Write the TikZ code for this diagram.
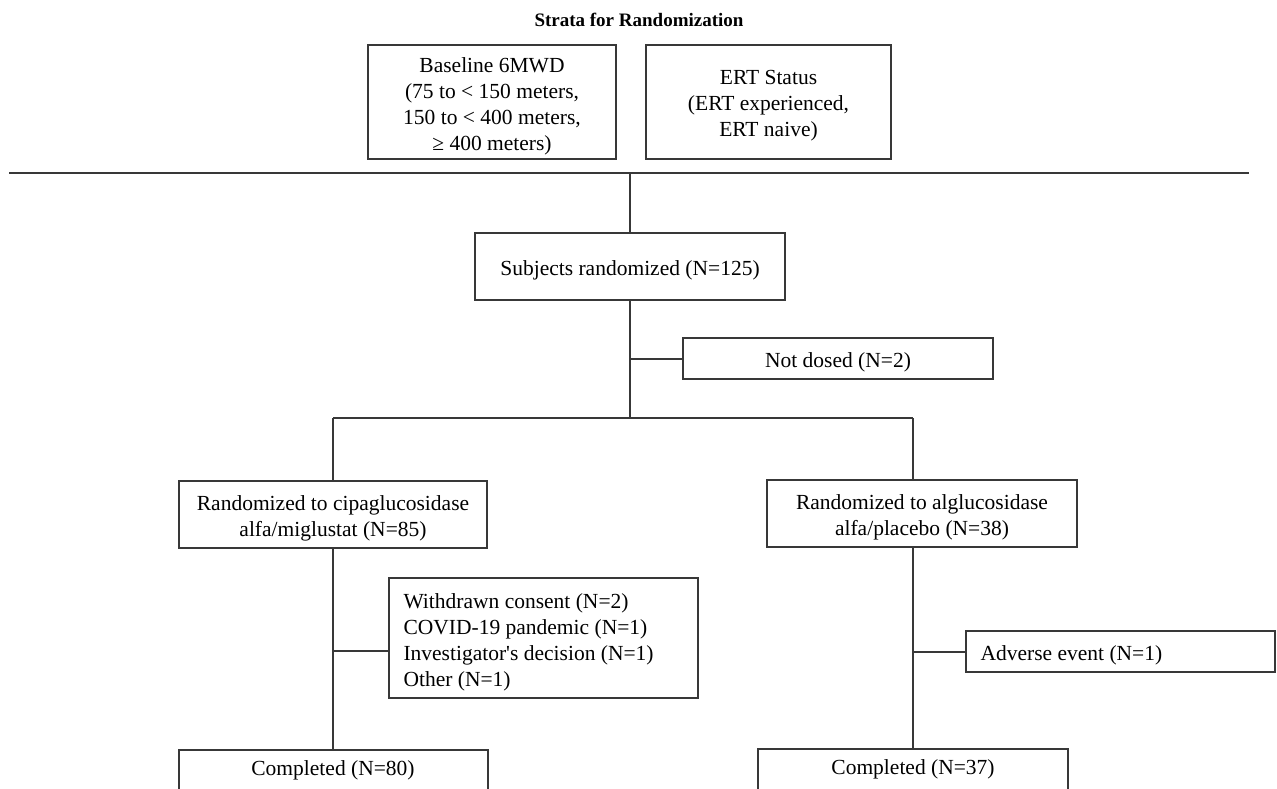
\documentclass[tikz,border=0pt]{standalone}
\usepackage{fontspec}
\setmainfont{Liberation Serif}[Ligatures=TeXOff]
\begin{document}
\begin{tikzpicture}[x=1pt,y=-1pt,
  ln/.style={draw=black!78,line width=2pt},
  box/.style={ln,rectangle,inner sep=0pt},
  tx/.style={align=center,yshift=-4pt,font=\fontsize{21.5}{26}\selectfont},
  txl/.style={tx,align=left,anchor=west,xshift=12pt},
  ttl/.style={font=\fontsize{19}{22}\selectfont\bfseries}]
\clip (0,0) rectangle (1277,789);
\useasboundingbox (0,0) rectangle (1277,789);
\fill[white] (0,0) rectangle (1277,789);
\node[ttl] (title) at (639,20) {Strata for Randomization};
\node[box,minimum width=248,minimum height=114,
  label={[tx]center:{Baseline 6MWD\\(75 to < 150 meters,\\150 to < 400 meters,\\≥ 400 meters)}}]
  (base) at (492,102) {};
\node[box,minimum width=245,minimum height=114,
  label={[tx]center:{ERT Status\\(ERT experienced,\\ERT naive)}}]
  (ert) at (768.5,102) {};
\coordinate (hl) at (9,173);
\coordinate (hr) at (1249,173);
\coordinate (hm) at (630,173);
\draw[ln] (hl) -- (hr);
\node[box,minimum width=310,minimum height=67,
  label={[tx]center:{Subjects randomized (N=125)}}] (subj) at (630,266.5) {};
\draw[ln] (hm) -- (subj.north);
\node[box,minimum width=310,minimum height=41,
  label={[tx]center:{Not dosed (N=2)}}] (nd) at (838,358.5) {};
\coordinate (bn) at (630,359);
\coordinate (jM) at (630,418);
\coordinate (jL) at (333,418);
\coordinate (jR) at (913,418);
\draw[ln] (subj.south) -- (jM);
\draw[ln] (bn) -- (bn -| nd.west);
\draw[ln] (jL) -- (jR);
\node[box,minimum width=308,minimum height=67,
  label={[tx]center:{Randomized to cipaglucosidase\\alfa/miglustat (N=85)}}]
  (lb) at (333,514.5) {};
\node[box,minimum width=310,minimum height=67,
  label={[tx]center:{Randomized to alglucosidase\\alfa/placebo (N=38)}}]
  (rb) at (922,513.5) {};
\draw[ln] (jL) -- (lb.north);
\draw[ln] (jR) -- (jR |- rb.north);
\node[box,minimum width=309,minimum height=120,
  label={[txl]west:{Withdrawn consent (N=2)\\COVID-19 pandemic (N=1)\\Investigator's decision (N=1)\\Other (N=1)}}]
  (wd) at (543.5,638) {};
\node[box,minimum width=309,minimum height=41,
  label={[txl]west:{Adverse event (N=1)}}] (ae) at (1120.5,651.5) {};
\node[box,minimum width=309,minimum height=80,anchor=north,
  label={[tx,yshift=24pt]center:{Completed (N=80)}}] (cl) at (333,749) {};
\node[box,minimum width=310,minimum height=80,anchor=north,
  label={[tx,yshift=24pt]center:{Completed (N=37)}}] (cr) at (913,748) {};
\coordinate (wl) at (333,651);
\coordinate (al) at (913,652);
\draw[ln] (lb.south) -- (cl.north);
\draw[ln] (wl) -- (wl -| wd.west);
\draw[ln] (rb.south -| cr.north) -- (cr.north);
\draw[ln] (al) -- (al -| ae.west);
\end{tikzpicture}
\end{document}
